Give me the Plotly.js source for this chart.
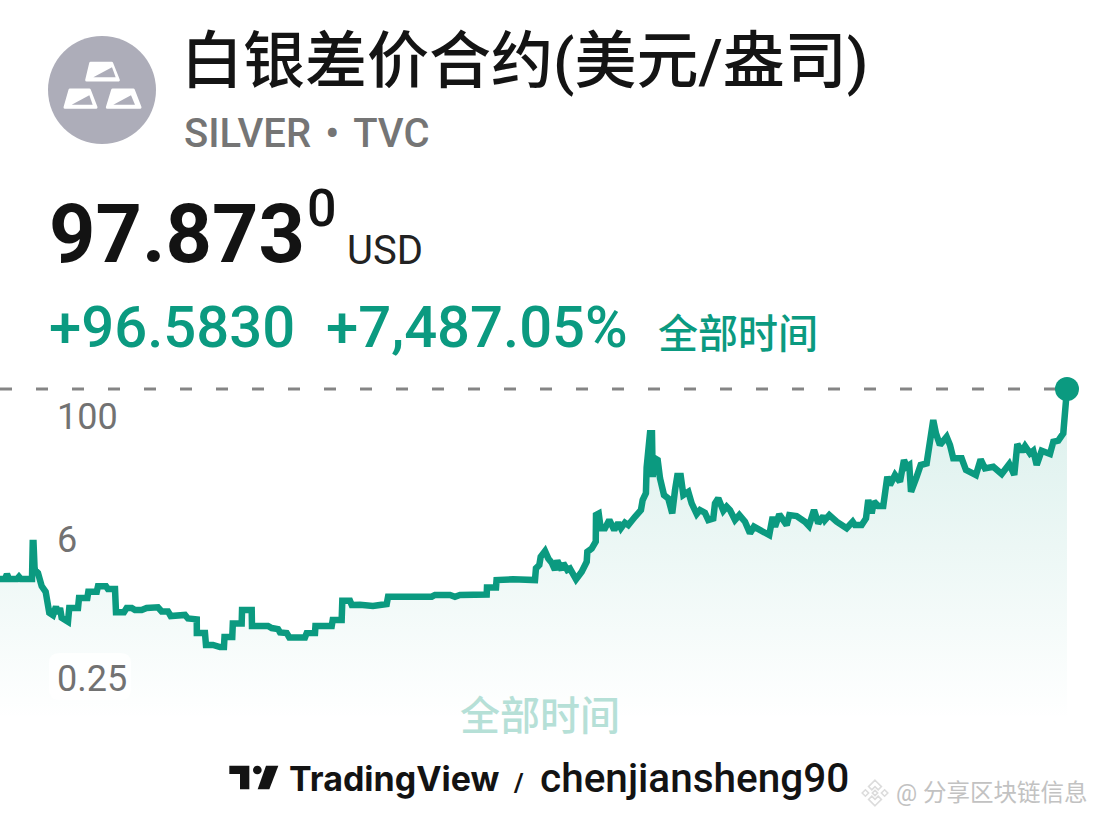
<!DOCTYPE html>
<html><head><meta charset="utf-8">
<script src="https://cdn.plot.ly/plotly-3.0.1.min.js"></script>
<style>html,body{margin:0;padding:0;background:#fff}#c{width:1096px;height:818px}</style>
</head><body><div id="c"></div>
<script>
const years = [1908.08,1908.63,1908.85,1909.08,1909.96,1910.18,1910.40,1911.62,1911.70,1911.79,1911.90,1911.95,1912.28,1912.69,1913.13,1913.53,1913.94,1914.27,1914.49,1914.72,1914.90,1915.60,1915.74,1916.71,1916.82,1917.74,1917.85,1918.78,1918.92,1919.80,1920.02,1920.80,1920.91,1921.79,1922.09,1922.65,1923.01,1923.75,1924.30,1925.55,1925.96,1926.66,1926.96,1928.54,1928.87,1929.84,1929.85,1930.75,1930.86,1931.64,1932.41,1932.85,1932.91,1933.77,1933.83,1934.81,1934.85,1935.92,1935.95,1937.72,1938.13,1938.83,1939.05,1939.79,1940.08,1941.81,1942.00,1942.92,1942.97,1944.77,1944.88,1945.87,1945.94,1946.79,1946.98,1947.90,1949.33,1950.44,1950.85,1951.00,1951.77,1952.32,1954.72,1955.08,1955.83,1956.19,1957.85,1958.40,1958.96,1961.91,1961.94,1962.94,1963.00,1964.82,1967.25,1967.36,1967.73,1967.88,1968.36,1968.72,1969.10,1969.46,1969.72,1970.21,1970.38,1970.82,1971.12,1971.79,1972.42,1972.97,1973.04,1973.52,1973.97,1974.00,1974.30,1974.52,1974.99,1975.47,1976.02,1976.46,1976.76,1977.20,1977.57,1978.31,1978.97,1979.16,1979.52,1979.60,1979.97,1980.19,1980.27,1980.52,1980.82,1981.08,1981.52,1981.99,1982.43,1982.74,1982.99,1983.37,1983.66,1984.21,1984.58,1985.14,1985.50,1986.05,1986.42,1986.97,1987.16,1987.52,1988.08,1988.45,1988.82,1989.37,1989.85,1990.48,1991.03,1991.47,1992.14,1993.16,1993.54,1993.80,1994.27,1995.09,1995.38,1996.19,1997.11,1997.55,1998.11,1998.58,1999.14,1999.32,1999.80,2000.62,2001.72,2002.39,2002.64,2003.38,2003.86,2004.11,2004.49,2004.74,2005.22,2005.77,2006.22,2006.51,2007.07,2007.62,2008.06,2008.36,2008.65,2008.84,2009.47,2009.91,2010.57,2010.94,2011.30,2011.60,2012.04,2012.78,2013.15,2013.51,2014.44,2014.92,2016.02,2016.54,2017.02,2017.94,2018.87,2019.71,2020.26,2020.60,2021.08,2021.45,2022.00,2022.36,2022.74,2023.29,2024.21,2024.58,2025.13,2025.68,2026.06,2026.09];
const prices = [1.26,1.26,1.41,1.26,1.26,1.33,1.26,1.26,2.88,2.88,1.65,1.55,1.45,1.07,0.94,0.58,0.55,0.67,0.57,0.65,0.52,0.475,0.65,0.65,0.816,0.816,0.94,0.94,1.07,1.07,1.0,1.0,0.59,0.59,0.65,0.65,0.62,0.62,0.65,0.66,0.6,0.6,0.54,0.553,0.51,0.5,0.366,0.366,0.278,0.278,0.265,0.265,0.333,0.333,0.455,0.455,0.62,0.62,0.43,0.43,0.41,0.4,0.37,0.365,0.33,0.33,0.365,0.366,0.43,0.43,0.493,0.493,0.765,0.765,0.695,0.70,0.68,0.71,0.71,0.84,0.84,0.81,0.81,0.84,0.84,0.874,0.874,0.84,0.874,0.885,1.04,1.04,1.232,1.25,1.23,1.61,1.737,2.1,2.39,2.02,1.83,1.55,1.92,1.55,1.81,1.55,1.6,1.25,1.49,1.87,2.35,2.53,2.97,5.46,5.65,4.03,4.03,4.87,3.87,4.58,4.03,4.58,4.34,5.25,6.12,7.7,9.0,16.2,35.5,35.5,13.1,20.0,19.26,12.65,8.63,8.0,5.68,9.68,13.35,13.35,8.63,9.3,7.14,5.59,6.12,5.75,4.87,5.05,7.14,8.0,6.03,6.62,6.12,4.87,5.46,4.68,3.6,4.18,3.87,3.45,5.25,4.18,5.55,4.34,5.46,5.34,4.68,4.25,6.12,4.52,5.34,4.87,5.46,4.68,4.03,4.68,4.34,4.34,5.05,7.7,5.68,7.42,6.71,6.71,13.15,10.86,13.66,11.7,19.26,16.5,17.17,9.3,13.15,17.17,17.85,30.45,48.1,35.5,27.15,32.8,27.15,20.0,20.0,15.31,13.66,19.55,15.9,16.5,13.97,17.57,13.66,27.78,23.3,26.53,22.4,23.8,17.17,23.8,22.09,29.3,30.0,35.5,71,97.87];
const tickValues = [100, 6, 0.25];
const tickLabels = ["100", "6", "0.25"];
const lastPrice = 97.873;
const titleText = "白银差价合约(美元/盎司)";
const symbolText = "SILVER\u00A0\u200A•\u200A\u00A0TVC";
const priceMain = "97.873";
const priceSup = "0";
const currency = "USD";
const changeAbs = "+96.5830";
const changePct = "+7,487.05%";
const rangeLabel = "全部时间";

const W = 1096, H = 818;
const px = v => v / W, py = v => 1 - v / H;
const CJK = 'Roboto, "Noto Sans CJK SC", sans-serif';
const GREEN = '#0b9a80';
function note(text, x, y, size, color, weight, family) {
  return {text, xref:'paper', yref:'paper', x:px(x), y:py(y), xanchor:'left', yanchor:'middle',
    showarrow:false, borderpad:0, font:{family:family||CJK, size, color, weight:weight||400}};
}
function img(svg, x, y, w, h) {
  return {source:'data:image/svg+xml;charset=utf-8,' + encodeURIComponent(svg), xref:'paper', yref:'paper',
    x:px(x), y:py(y), sizex:w/W, sizey:h/H, xanchor:'left', yanchor:'top', sizing:'stretch', layer:'above'};
}
const barSvg = `<svg xmlns="http://www.w3.org/2000/svg" viewBox="0 0 600 420" width="600" height="420">
<circle cx="216" cy="210" r="162" fill="#adadb9"/>
<g fill="#fff" stroke="#fff" stroke-width="9" stroke-linejoin="round">
<path d="M182 130H245L265 180H170Z"/><path d="M120 210H178L198 262H105Z"/><path d="M248 210H310L330 262H232Z"/></g>
<g fill="#adadb9"><path d="M190 172L246 142L257 172Z"/><path d="M125 254L178 226L188 254Z"/><path d="M250 254L303 226L315 254Z"/></g></svg>`;
const tvSvg = `<svg xmlns="http://www.w3.org/2000/svg" viewBox="0 0 900 180" width="900" height="180">
<g fill="#131313"><path d="M58 47H118V118H90V72H58Z"/><circle cx="142" cy="60" r="13"/><path d="M168 47H205L178 118H143Z"/></g></svg>`;
const wmSvg = `<svg xmlns="http://www.w3.org/2000/svg" viewBox="0 0 120 120" width="120" height="120">
<g fill="none" stroke="#dcdcdc" stroke-width="6"><path d="M60 12L84 36L72 48L60 36L48 48L36 36Z"/><path d="M60 108L84 84L72 72L60 84L48 72L36 84Z"/><path d="M24 48L36 60L24 72L12 60Z"/><path d="M96 48L108 60L96 72L84 60Z"/><path d="M60 50L70 60L60 70L50 60Z"/></g></svg>`;

const bx0=49,bx1=131,by0=653,by1=700,r=10;
const boxPath = `M${px(bx0+r)} ${py(by0)} L${px(bx1-r)} ${py(by0)} Q${px(bx1)} ${py(by0)} ${px(bx1)} ${py(by0+r)} L${px(bx1)} ${py(by1-r)} Q${px(bx1)} ${py(by1)} ${px(bx1-r)} ${py(by1)} L${px(bx0+r)} ${py(by1)} Q${px(bx0)} ${py(by1)} ${px(bx0)} ${py(by1-r)} L${px(bx0)} ${py(by0+r)} Q${px(bx0)} ${py(by0)} ${px(bx0+r)} ${py(by0)} Z`;

const traces = [
  {x:years, y:prices, type:'scatter', mode:'lines', line:{color:GREEN, width:6.5, shape:'linear'}, fill:'tozeroy',
   fillgradient:{type:'vertical', start:100, stop:0.05,
     colorscale:[[0,'rgba(11,154,128,0.15)'],[1,'rgba(11,154,128,0)']]}, hoverinfo:'skip'},
  {x:[years[0], years[years.length-1]], y:[lastPrice,lastPrice], type:'scatter', mode:'lines',
   line:{color:'#858585', width:3, dash:'12px,24px'}, hoverinfo:'skip'},
  {x:[years[years.length-1]], y:[lastPrice], type:'scatter', mode:'markers',
   marker:{color:GREEN, size:24}, hoverinfo:'skip'}
];
const tickAnn = tickValues.map((v,i)=>({text:tickLabels[i], xref:'paper', yref:'y', x:px(55.5), y:Math.log10(v), yshift:-29,
  xanchor:'left', yanchor:'middle', showarrow:false, borderpad:0,
  font:{family:'Roboto, sans-serif', size:36, color:'#727272'}}));
const layout = {
  width:W, height:H, margin:{l:0,r:0,t:0,b:0}, paper_bgcolor:'#fff', plot_bgcolor:'#fff', showlegend:false,
  xaxis:{range:[1908.08,2029.30], visible:false, fixedrange:true},
  yaxis:{type:'log', range:[-2.2775,5.8619], showgrid:false, zeroline:false, showline:false, showticklabels:false, ticks:'', fixedrange:true},
  shapes:[{type:'path', xref:'paper', yref:'paper', path:boxPath, fillcolor:'rgba(255,255,255,0.8)', line:{width:0}, layer:'above'}],
  images:[img(barSvg,30,20,200,140), img(tvSvg,210,750,300,60), img(wmSvg,859,777,32,32)],
  annotations:[
    ...tickAnn,
    note(titleText,180,61,62,'#141414',500),
    note(symbolText,183,133,40,'#757575',500),
    note(priceMain,48,234,81,'#131313',700),
    note(priceSup,306,208,52,'#131313',500),
    note(currency,346,250,40,'#222222',400),
    note(changeAbs,48,327,58,GREEN,500),
    note(changePct,325,327,58,GREEN,500),
    note(rangeLabel,657,334,40,GREEN,500),
    note(rangeLabel,459,716,40,'#b6e0d7',500),
    note('TradingView',288,778,34,'#131313',700,'Inter, Roboto, sans-serif'),
    note('/',512,783,26,'#131313',700),
    note('chenjiansheng90',539,778,40.5,'#131313',500),
    note('@ 分享区块链信息',895,793,23.5,'#c2c2c2',400)
  ]
};
Plotly.newPlot('c', traces, layout, {displayModeBar:false, staticPlot:true});
</script></body></html>
